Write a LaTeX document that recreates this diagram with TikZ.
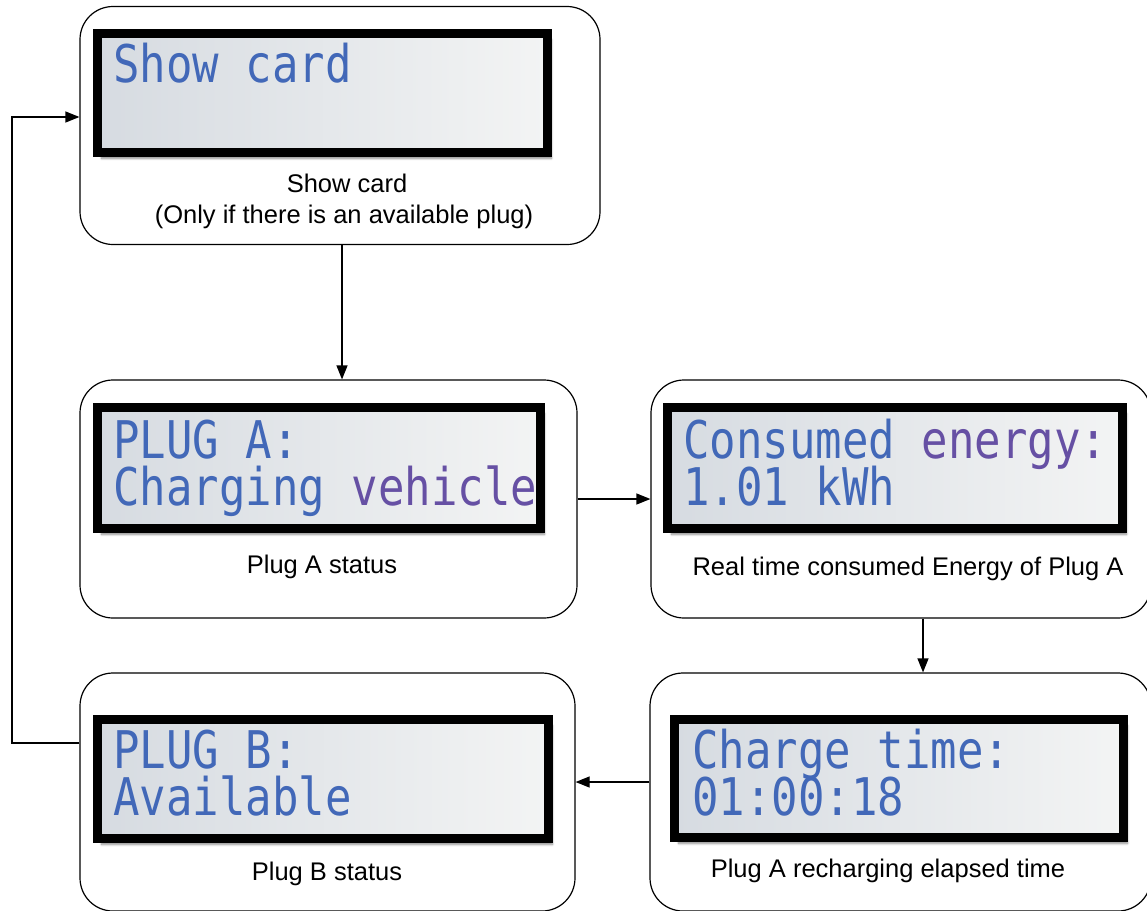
\documentclass[tikz,border=0pt]{standalone}
\usepackage{fontspec}
\setmainfont{Liberation Sans}
\newfontfamily\lcdfont{DejaVu Sans Mono}
\usepackage{xcolor}
\usetikzlibrary{positioning,arrows.meta,shadows.blur}
\definecolor{lcdblue}{RGB}{66,104,184}
\definecolor{lcdviolet}{RGB}{102,80,164}
\definecolor{lcdleft}{RGB}{214,219,225}
\definecolor{lcdright}{RGB}{243,244,244}
\newcommand{\lcdrow}[1]{\scalebox{1}[1.18]{#1}}

\begin{document}
\begin{tikzpicture}[x=1pt, y=-1pt,
        panel/.style={draw, line width=1.2pt, rounded corners=33pt, minimum height=238pt},
        lcd/.style={draw=black, line width=9pt, left color=lcdleft, right color=lcdright,
            blur shadow={shadow xshift=4pt, shadow yshift=-6pt, shadow blur steps=6, shadow opacity=45}},
        lcdtext/.style={anchor=base west, inner sep=0pt, text=lcdblue, font=\lcdfont\fontsize{44}{47}\selectfont},
        caption/.style={anchor=base, inner sep=0pt, font=\fontsize{25.5}{31}\selectfont},
        >={Triangle[length=14pt,width=11pt]}
    ]
        \useasboundingbox (0,0) rectangle (1147,910);
        \clip (0,0) rectangle (1147,910);

        % panels
        \node [panel, minimum width=520pt] (card) at (340,125.5) {};
        \node [panel, minimum width=497pt] (plugA) at (328.5,499) {};
        \node [panel, minimum width=500pt] (energy) at (901,499) {};
        \node [panel, minimum width=495pt] (plugB) at (327.5,792) {};
        \node [panel, minimum width=501pt] (chtime) at (900.5,792) {};

        % displays
        \node [lcd, minimum width=450pt, minimum height=119pt] (lcdcard) at (322.5,93) {};
        \node [lcd, minimum width=443pt, minimum height=121pt] (lcdplugA) at (319,468) {};
        \node [lcd, minimum width=455pt, minimum height=121pt] (lcdenergy) at (895,468) {};
        \node [lcd, minimum width=451pt, minimum height=119pt] (lcdplugB) at (323,779) {};
        \node [lcd, minimum width=449pt, minimum height=118pt] (lcdchtime) at (899,778.5) {};

        % display texts
        \node [lcdtext] (txtcard) at (113,82) {\lcdrow{Show card}};
        \node [lcdtext] (txtplugA) at (113,458) {\lcdrow{PLUG A:}};
        \node [lcdtext] (txtcharging) at (113,505) {\lcdrow{Charging \textcolor{lcdviolet}{vehicle}}};
        \node [lcdtext] (txtconsumed) at (683,458) {\lcdrow{Consumed \textcolor{lcdviolet}{energy:}}};
        \node [lcdtext] (txtkwh) at (683,505) {\lcdrow{1.01 kWh}};
        \node [lcdtext] (txtplugB) at (113,768) {\lcdrow{PLUG B:}};
        \node [lcdtext] (txtavail) at (113,815) {\lcdrow{Available}};
        \node [lcdtext] (txtchtime) at (692,768) {\lcdrow{Charge time:}};
        \node [lcdtext] (txtclock) at (692,815) {\lcdrow{01:00:18}};

        % captions
        \node [caption] (capcard) at (347,192) {Show card};
        \node [caption] (capcardnote) at (344,223) {(Only if there is an available plug)};
        \node [caption] (capplugA) at (322,573) {Plug A status};
        \node [caption] (capenergy) at (908,575) {Real time consumed Energy of Plug A};
        \node [caption] (capplugB) at (327,880) {Plug B status};
        \node [caption] (capchtime) at (888,877) {Plug A recharging elapsed time};

        \coordinate (loop) at (12,743);

        \draw [->, line width=1.2pt] ([xshift=2pt]card.south) -- ([xshift=2pt]card.south |- plugA.north);
        \draw [->, line width=1.2pt] (plugA.east) -- (energy.west);
        \draw [->, line width=1.2pt] ([xshift=22pt]energy.south) -- ([xshift=22pt]energy.south |- chtime.north);
        \draw [->, line width=1.2pt] ([yshift=10pt]chtime.west) -- ([yshift=10pt]chtime.west -| plugB.east);
        \draw [->, line width=1.2pt] (plugB.west |- loop) -- (loop) |- ([yshift=8.5pt]card.west); % back to first screen

    \end{tikzpicture}
\end{document}
